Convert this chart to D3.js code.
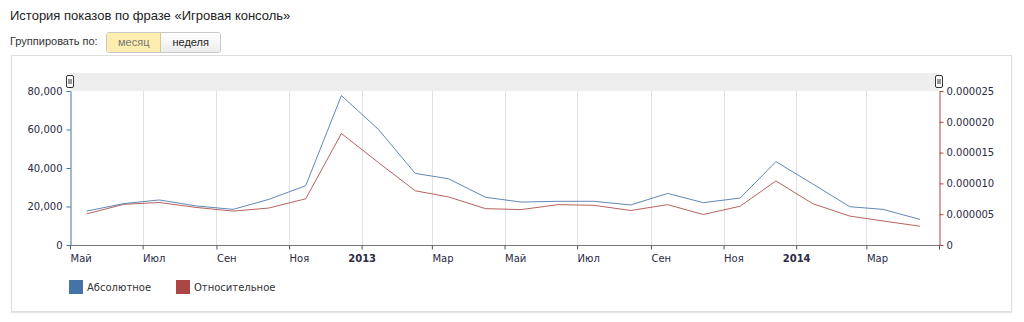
<!DOCTYPE html>
<html>
<head>
<meta charset="utf-8">
<script src="https://cdn.jsdelivr.net/npm/d3@7"></script>
<style>
  body { margin: 0; background: #fff; font-family: Arial, "Liberation Sans", sans-serif; }
  .title { position: absolute; left: 10px; top: 8px; font-size: 13px; color: #222; }
  .group { position: absolute; left: 10px; top: 35px; font-size: 11px; color: #333; }
  .btns { position: absolute; left: 106px; top: 32px; height: 19px; display: flex; border: 1px solid #c8c8c8; border-radius: 3px; overflow: hidden; font-size: 11px; }
  .btns span { display: block; line-height: 19px; padding: 0 11px; }
  .btns .on { background: #fdeeb0; color: #777; border-right: 1px solid #d8c98a; }
  .btns .off { background: linear-gradient(#fff, #ececec); color: #222; }
  .box { position: absolute; left: 11px; top: 55px; width: 999px; height: 255px; border: 1px solid #ddd; box-shadow: 0 1px 1px #e6e6e6; }
  svg { position: absolute; left: 0; top: 0; }
</style>
</head>
<body>
<div class="title">История показов по фразе «Игровая консоль»</div>
<div class="group">Группировать по:</div>
<div class="btns"><span class="on">месяц</span><span class="off">неделя</span></div>
<div class="box"></div>
<svg id="chart" width="1024" height="322"></svg>
<script>
// months (mid-month points)
const months = ["2012-05","2012-06","2012-07","2012-08","2012-09","2012-10","2012-11","2012-12",
  "2013-01","2013-02","2013-03","2013-04","2013-05","2013-06","2013-07","2013-08","2013-09","2013-10","2013-11","2013-12",
  "2014-01","2014-02","2014-03","2014-04"];
const absolute = [17600, 21500, 23400, 20300, 18500, 23700, 30800, 77600,
  60100, 37200, 34400, 24800, 22300, 22700, 22700, 20800, 26800, 22000, 24400, 43300,
  31700, 19900, 18500, 13300];
const relative = [5.05e-6, 6.6e-6, 6.9e-6, 6.1e-6, 5.5e-6, 6.0e-6, 7.5e-6, 18.1e-6,
  13.4e-6, 8.8e-6, 7.8e-6, 5.9e-6, 5.75e-6, 6.55e-6, 6.45e-6, 5.6e-6, 6.55e-6, 4.95e-6, 6.3e-6, 10.4e-6,
  6.7e-6, 4.7e-6, 3.9e-6, 3.05e-6];
const leftTicks = [0, 20000, 40000, 60000, 80000];
const rightTicks = [0, 0.000005, 0.00001, 0.000015, 0.00002, 0.000025];
const monthNames = ["Янв","Фев","Мар","Апр","Май","Июн","Июл","Авг","Сен","Окт","Ноя","Дек"];
const seriesNames = ["Абсолютное", "Относительное"];
const colors = ["#4572A7", "#AA4643"];

const svg = d3.select("#chart");
const x0 = 70, x1 = 939, yTop = 91, yBot = 245;
const labelColor = "#2a2a44";

const x = d3.scaleTime()
  .domain([new Date(2012, 4, 1), new Date(2014, 4, 1)])
  .range([x0, x1]);
const yL = d3.scaleLinear().domain([0, 80000]).range([yBot, yTop]);
const yR = d3.scaleLinear().domain([0, 0.000025]).range([yBot, yTop]);

const dates = months.map(m => { const p = m.split("-"); return new Date(+p[0], +p[1] - 1, 15); });

// top grey band
svg.append("rect").attr("x", x0).attr("y", 73).attr("width", x1 - x0).attr("height", yTop - 73).attr("fill", "#eeeeee");

// vertical grid
const xTicks = d3.timeMonth.every(2).range(new Date(2012, 4, 1), new Date(2014, 4, 1));
svg.append("g").selectAll("line").data(xTicks.slice(1)).enter().append("line")
  .attr("x1", d => Math.round(x(d)) + 0.5).attr("x2", d => Math.round(x(d)) + 0.5)
  .attr("y1", yTop).attr("y2", yBot)
  .attr("stroke", "#e2e2e2").attr("stroke-width", 1);

// bottom axis
const xAxis = d3.axisBottom(x).tickValues(xTicks).tickSize(4).tickSizeOuter(0)
  .tickFormat(d => d.getMonth() === 0 ? d.getFullYear() : monthNames[d.getMonth()]);
const gx = svg.append("g").attr("transform", `translate(0,${yBot + 0.5})`).call(xAxis);
gx.select(".domain").attr("stroke", "#777").attr("d", `M${x0},0H${x1 + 1}`);
gx.selectAll(".tick line").attr("stroke", "#555");
gx.selectAll(".tick text")
  .attr("fill", labelColor).attr("dy", "0.95em")
  .style("font-family", "DejaVu Sans, Verdana, sans-serif").style("font-size", "10px")
  .style("font-weight", d => d.getMonth() === 0 ? "bold" : "normal")
  .attr("text-anchor", d => d.getMonth() === 0 ? "middle" : "start")
  .attr("dx", d => d.getMonth() === 0 ? 0 : 0);
// end tick
gx.append("line").attr("x1", x1 + 0.5).attr("x2", x1 + 0.5).attr("y1", 0).attr("y2", 4).attr("stroke", "#555");

// left axis
const gl = svg.append("g").attr("transform", `translate(${x0 + 0.5},0)`)
  .call(d3.axisLeft(yL).tickValues(leftTicks).tickSize(4).tickSizeOuter(0).tickFormat(d3.format(",")));
gl.select(".domain").attr("stroke", colors[0]);
gl.selectAll(".tick line").attr("stroke", colors[0]);
gl.selectAll(".tick text").attr("fill", labelColor).attr("x", -8)
  .style("font-family", "DejaVu Sans, Verdana, sans-serif").style("font-size", "10px");

// right axis
const gr = svg.append("g").attr("transform", `translate(${x1 + 0.5},0)`)
  .call(d3.axisRight(yR).tickValues(rightTicks).tickSize(4).tickSizeOuter(0)
    .tickFormat(d => d === 0 ? "0" : d.toFixed(6)));
gr.select(".domain").attr("stroke", colors[1]);
gr.selectAll(".tick line").attr("stroke", colors[1]);
gr.selectAll(".tick text").attr("fill", labelColor).attr("x", 7)
  .style("font-family", "DejaVu Sans, Verdana, sans-serif").style("font-size", "10px");

// lines
const lineAbs = d3.line().x((d, i) => x(dates[i])).y(d => yL(d));
const lineRel = d3.line().x((d, i) => x(dates[i])).y(d => yR(d));
svg.append("path").datum(relative).attr("d", lineRel)
  .attr("fill", "none").attr("stroke", colors[1]).attr("stroke-width", 1).attr("stroke-opacity", 0.85);
svg.append("path").datum(absolute).attr("d", lineAbs)
  .attr("fill", "none").attr("stroke", colors[0]).attr("stroke-width", 1).attr("stroke-opacity", 0.85);

// scroll handles on band
[x0, x1].forEach(hx => {
  const h = svg.append("g").attr("transform", `translate(${hx},82)`);
  h.append("rect").attr("x", -3.5).attr("y", -6.5).attr("width", 7).attr("height", 12).attr("rx", 1.5)
    .attr("fill", "#fff").attr("stroke", "#333").attr("stroke-width", 1);
  h.append("line").attr("x1", -1).attr("x2", -1).attr("y1", -3).attr("y2", 2).attr("stroke", "#333");
  h.append("line").attr("x1", 1).attr("x2", 1).attr("y1", -3).attr("y2", 2).attr("stroke", "#333");
});

// legend
const legendX = [69, 176];
const lg = svg.append("g").selectAll("g").data(seriesNames).enter().append("g")
  .attr("transform", (d, i) => `translate(${legendX[i]},280)`);
lg.append("rect").attr("width", 14).attr("height", 14).attr("fill", (d, i) => colors[i]);
lg.append("text").attr("x", 18).attr("y", 11).text(d => d)
  .attr("fill", "#333").style("font-family", "DejaVu Sans, Verdana, sans-serif").style("font-size", "10px");
</script>
</body>
</html>
